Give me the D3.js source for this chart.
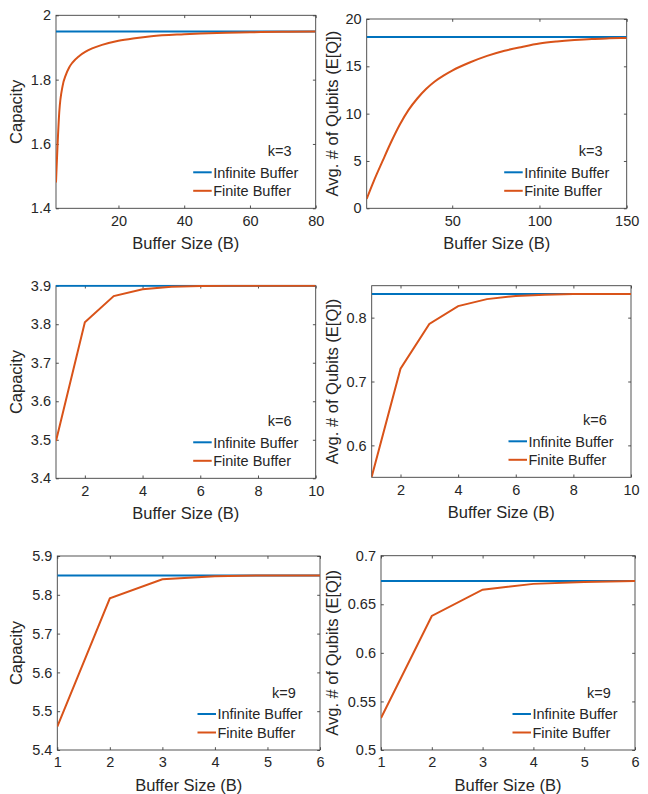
<!DOCTYPE html>
<html>
<head>
<meta charset="utf-8">
<script src="https://cdn.jsdelivr.net/npm/d3@7"></script>
<style>
body { margin: 0; background: #fff; }
text { font-family: "Liberation Sans", Arial, sans-serif; fill: #262626; }
</style>
</head>
<body>
<svg id="chart" width="648" height="794"></svg>
<script>
// ---- data ----
// k = 3
var bK3Cap = [1, 2, 3, 4, 5, 6, 8, 10, 12, 15, 20, 25, 30, 40, 50, 60, 70, 80]
var capK3 = [1.48, 1.70, 1.78, 1.815, 1.838, 1.853, 1.873, 1.887, 1.897, 1.908, 1.921, 1.929, 1.935, 1.941, 1.945, 1.947, 1.949, 1.95]
var capInfK3 = 1.95

var bK3Q = [1, 5, 10, 15, 20, 25, 30, 35, 40, 45, 50, 60, 70, 80, 90, 100, 110, 120, 130, 140, 150]
var qK3 = [1.0, 2.85, 4.95, 7.0, 8.85, 10.4, 11.6, 12.6, 13.4, 14.02, 14.55, 15.4, 16.1, 16.65, 17.05, 17.4, 17.62, 17.78, 17.9, 17.96, 18.0]
var qInfK3 = 18.1

// k = 6
var bK6 = [1, 2, 3, 4, 5, 6, 7, 8, 9, 10]
var capK6 = [3.497, 3.805, 3.873, 3.891, 3.897, 3.899, 3.9, 3.9, 3.9, 3.9]
var capInfK6 = 3.9
var qK6 = [0.551, 0.72, 0.79, 0.818, 0.829, 0.834, 0.836, 0.837, 0.837, 0.837]
var qInfK6 = 0.837

// k = 9
var bK9 = [1, 2, 3, 4, 5, 6]
var capK9 = [5.46, 5.791, 5.84, 5.848, 5.85, 5.85]
var capInfK9 = 5.85
var qK9 = [0.533, 0.638, 0.665, 0.671, 0.673, 0.674]
var qInfK9 = 0.674

// tick labels
var xTicksK3Cap = [20, 40, 60, 80]
var yTicksK3Cap = [1.4, 1.6, 1.8, 2]
var xTicksK3Q = [50, 100, 150]
var yTicksK3Q = [0, 5, 10, 15, 20]
var xTicksK6 = [2, 4, 6, 8, 10]
var yTicksK6Cap = [3.4, 3.5, 3.6, 3.7, 3.8, 3.9]
var yTicksK6Q = [0.6, 0.7, 0.8]
var xTicksK9 = [1, 2, 3, 4, 5, 6]
var yTicksK9Cap = [5.4, 5.5, 5.6, 5.7, 5.8, 5.9]
var yTicksK9Q = [0.5, 0.55, 0.6, 0.65, 0.7]

var legendNames = ["Infinite Buffer", "Finite Buffer"]
var colInf = "#0072BD"
var colFin = "#D95319"

var panels = [
	{ box: [56, 315.7, 15.3, 208.3], xDom: [1, 80], yDom: [1.4, 2], xs: bK3Cap, ys: capK3, inf: capInfK3,
	  xt: xTicksK3Cap, yt: yTicksK3Cap, ylab: "Capacity", ylabX: 22, k: "k=3", smooth: true },
	{ box: [366.7, 626.7, 19, 208.3], xDom: [1, 150], yDom: [0, 20], xs: bK3Q, ys: qK3, inf: qInfK3,
	  xt: xTicksK3Q, yt: yTicksK3Q, ylab: "Avg. # of Qubits (E[Q])", ylabX: 338, k: "k=3", smooth: true },
	{ box: [56, 315.7, 285.7, 478.3], xDom: [1, 10], yDom: [3.4, 3.9], xs: bK6, ys: capK6, inf: capInfK6,
	  xt: xTicksK6, yt: yTicksK6Cap, ylab: "Capacity", ylabX: 22, k: "k=6" },
	{ box: [371.7, 631, 285.7, 477.3], xDom: [1, 10], yDom: [0.55, 0.85], xs: bK6, ys: qK6, inf: qInfK6,
	  xt: xTicksK6, yt: yTicksK6Q, ylab: "Avg. # of Qubits (E[Q])", ylabX: 338, k: "k=6" },
	{ box: [57.3, 320, 556, 750], xDom: [1, 6], yDom: [5.4, 5.9], xs: bK9, ys: capK9, inf: capInfK9,
	  xt: xTicksK9, yt: yTicksK9Cap, ylab: "Capacity", ylabX: 22, k: "k=9" },
	{ box: [381, 635, 555.7, 750], xDom: [1, 6], yDom: [0.5, 0.7], xs: bK9, ys: qK9, inf: qInfK9,
	  xt: xTicksK9, yt: yTicksK9Q, ylab: "Avg. # of Qubits (E[Q])", ylabX: 338, k: "k=9" }
]

var svg = d3.select("#chart")
var axisCol = "#404040"
var tickLen = 2.8
var fmt = d3.format("~g")

panels.forEach(function (p, i) {
	var left = p.box[0], right = p.box[1], top = p.box[2], bottom = p.box[3]

	var x = d3.scaleLinear().domain(p.xDom).range([left, right])
	var y = d3.scaleLinear().domain(p.yDom).range([bottom, top])

	var g = svg.append("g")

	g.append("clipPath").attr("id", "clip" + i)
		.append("rect")
		.attr("x", left).attr("y", top - 1)
		.attr("width", right - left).attr("height", bottom - top + 2)

	// axes, mirrored on all sides with inward ticks
	g.append("g").attr("transform", "translate(0," + bottom + ")")
		.call(d3.axisBottom(x).tickValues(p.xt).tickSizeInner(-tickLen).tickSizeOuter(0).tickPadding(7).tickFormat(fmt))
	g.append("g").attr("transform", "translate(0," + top + ")")
		.call(d3.axisTop(x).tickValues(p.xt).tickSizeInner(-tickLen).tickSizeOuter(0).tickFormat(""))
	g.append("g").attr("transform", "translate(" + left + ",0)")
		.call(d3.axisLeft(y).tickValues(p.yt).tickSizeInner(-tickLen).tickSizeOuter(0).tickPadding(5).tickFormat(fmt))
	g.append("g").attr("transform", "translate(" + right + ",0)")
		.call(d3.axisRight(y).tickValues(p.yt).tickSizeInner(-tickLen).tickSizeOuter(0).tickFormat(""))

	g.selectAll(".domain").remove()
	g.selectAll(".tick line").attr("stroke", axisCol).attr("stroke-width", 0.9)
	g.selectAll(".tick text").attr("font-size", 14.5).attr("fill", "#262626")
		.attr("font-family", "'Liberation Sans', Arial, sans-serif")

	g.append("rect")
		.attr("x", left).attr("y", top)
		.attr("width", right - left).attr("height", bottom - top)
		.attr("fill", "none").attr("stroke", axisCol).attr("stroke-width", 0.9)

	// series
	var infData = [[p.xDom[0], p.inf], [p.xDom[1], p.inf]]
	var finData = p.xs.map(function (d, j) { return [d, p.ys[j]] })

	var line = d3.line()
		.x(function (d) { return x(d[0]) })
		.y(function (d) { return y(d[1]) })

	var plot = g.append("g").attr("clip-path", "url(#clip" + i + ")")

	plot.append("path").datum(infData)
		.attr("d", line)
		.attr("fill", "none").attr("stroke", colInf).attr("stroke-width", 2)

	plot.append("path").datum(finData)
		.attr("d", line.curve(p.smooth ? d3.curveMonotoneX : d3.curveLinear))
		.attr("fill", "none").attr("stroke", colFin).attr("stroke-width", 2)

	// labels
	g.append("text")
		.attr("x", (left + right) / 2).attr("y", bottom + 41)
		.attr("text-anchor", "middle").attr("font-size", 16.5)
		.text("Buffer Size (B)")

	g.append("text")
		.attr("transform", "translate(" + p.ylabX + "," + ((top + bottom) / 2) + ") rotate(-90)")
		.attr("text-anchor", "middle").attr("font-size", 16.5)
		.text(p.ylab)

	// legend
	g.append("text")
		.attr("x", right - 36).attr("y", bottom - 52)
		.attr("text-anchor", "middle").attr("font-size", 14.5)
		.text(p.k)

	var cols = [colInf, colFin]
	legendNames.forEach(function (name, j) {
		var ly = bottom - 36 + j * 18.5
		g.append("line")
			.attr("x1", right - 122.5).attr("x2", right - 104)
			.attr("y1", ly).attr("y2", ly)
			.attr("stroke", cols[j]).attr("stroke-width", 2)
		g.append("text")
			.attr("x", right - 102.5).attr("y", ly).attr("dy", "0.36em")
			.attr("font-size", 14.5)
			.text(name)
	})
})
</script>
</body>
</html>
